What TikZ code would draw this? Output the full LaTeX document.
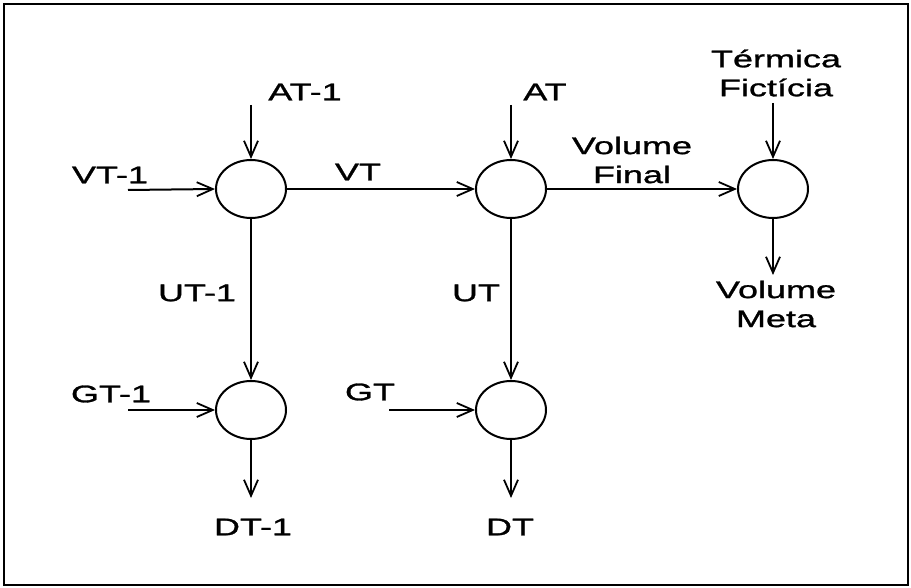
\documentclass[tikz,border=0pt]{standalone}
\usepackage{fontspec}
\setmainfont{Liberation Sans}[FakeStretch=1.5,FakeBold=1.2]
\usetikzlibrary{shapes.geometric,arrows.meta}
\tikzset{
  blob/.style={draw,ellipse,line width=2pt,minimum width=70pt,minimum height=58pt,inner sep=0pt},
  flow/.style={line width=2pt,-{Straight Barb[length=16pt,width=14pt,line width=1.8pt]}},
  lbl/.style={inner sep=0pt,align=center,font=\fontsize{24}{29}\selectfont}
}
\begin{document}
\begin{tikzpicture}[x=1pt,y=-1pt]
\useasboundingbox (0,0) rectangle (911,588);
\draw[line width=2.5pt] (4,4) rectangle (908,585);
% nodes
\node[blob] (c1) at (251,189) {};
\node[blob] (c2) at (511,189) {};
\node[blob] (c3) at (773,189) {};
\node[blob] (c4) at (251,410) {};
\node[blob] (c5) at (511,410) {};
% labels
\node[lbl] (vt1) at (110,175) {VT-1};
\node[lbl] (at1) at (305,92) {AT-1};
\node[lbl] (vt) at (358,172) {VT};
\node[lbl] (at) at (545,92) {AT};
\node[lbl] (vf) at (632,160) {Volume\\Final};
\node[lbl] (tf) at (776,73) {Térmica\\Fictícia};
\node[lbl] (vm) at (776,304) {Volume\\Meta};
\node[lbl] (ut1) at (197,293) {UT-1};
\node[lbl] (ut) at (476,293) {UT};
\node[lbl] (gt1) at (111,394) {GT-1};
\node[lbl] (gt) at (370,392) {GT};
\node[lbl] (dt1) at (253,527) {DT-1};
\node[lbl] (dt) at (510,527) {DT};
% free ends
\coordinate (pvt1) at (128,190);
\coordinate (pat1) at (251,105);
\coordinate (pat) at (511,105);
\coordinate (ptf) at (773,103);
\coordinate (pgt1) at (128,410);
\coordinate (pgt) at (389,410);
\coordinate (pvm) at (773,275);
\coordinate (pdt1) at (251,498);
\coordinate (pdt) at (511,498);
% connectors
\draw[flow] (pvt1) -- (c1.west);
\draw[flow] (pat1) -- (c1.north);
\draw[flow] (c1.east) -- (c2.west);
\draw[flow] (pat) -- (c2.north);
\draw[flow] (c2.east) -- (c3.west);
\draw[flow] (ptf) -- (c3.north);
\draw[flow] (c3.south) -- (pvm);
\draw[flow] (c1.south) -- (c4.north);
\draw[flow] (c2.south) -- (c5.north);
\draw[flow] (pgt1) -- (c4.west);
\draw[flow] (pgt) -- (c5.west);
\draw[flow] (c4.south) -- (pdt1);
\draw[flow] (c5.south) -- (pdt);
\end{tikzpicture}
\end{document}
